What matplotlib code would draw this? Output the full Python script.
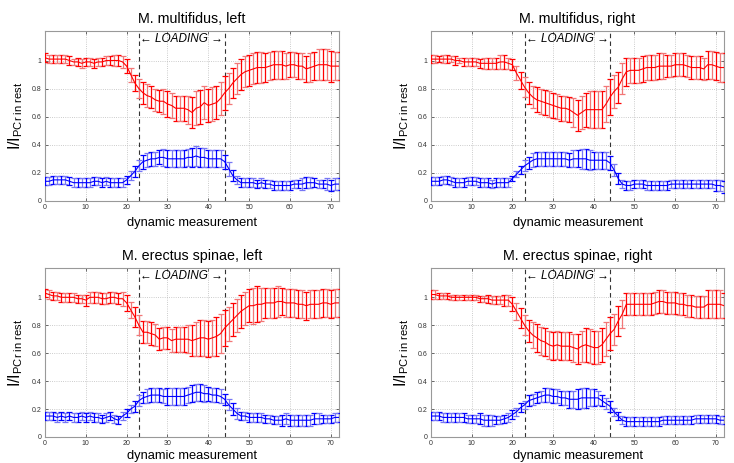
#import
import matplotlib
matplotlib.use("Agg")
import matplotlib.pyplot as plt
import numpy as np

#data
meas = list(range(73))

titles = ["M. multifidus, left", "M. multifidus, right",
          "M. erectus spinae, left", "M. erectus spinae, right"]

# M. multifidus, left
mf_l_red = [1.02,1.01,1.01,1.01,1.01,1.01,1.00,0.99,0.99,0.98,0.99,0.99,0.98,0.99,0.99,1.00,1.00,1.00,1.00,0.99,
            0.96,0.90,0.84,0.80,0.77,0.75,0.74,0.72,0.71,0.71,0.69,0.68,0.66,0.66,0.66,0.65,0.63,0.66,0.67,0.70,0.68,0.69,0.70,0.73,
            0.77,0.80,0.84,0.87,0.90,0.92,0.93,0.94,0.95,0.95,0.95,0.96,0.97,0.97,0.97,0.96,0.97,0.97,0.96,0.96,0.94,0.95,0.96,0.97,0.97,0.97,0.96,0.96,0.96]
mf_l_red_err = [0.03,0.03,0.03,0.03,0.03,0.03,0.03,0.02,0.03,0.03,0.03,0.03,0.03,0.03,0.03,0.03,0.03,0.04,0.04,0.04,
                0.05,0.05,0.06,0.07,0.08,0.08,0.08,0.08,0.08,0.09,0.09,0.09,0.09,0.09,0.09,0.10,0.11,0.12,0.12,0.12,0.12,0.12,0.12,0.12,
                0.12,0.11,0.11,0.11,0.11,0.11,0.11,0.11,0.11,0.11,0.10,0.10,0.10,0.10,0.10,0.09,0.09,0.09,0.09,0.09,0.09,0.10,0.10,0.11,0.11,0.11,0.11,0.10,0.10]
mf_l_blue = [0.14,0.14,0.15,0.15,0.15,0.15,0.14,0.13,0.13,0.13,0.13,0.13,0.14,0.14,0.13,0.14,0.13,0.13,0.13,0.13,
             0.15,0.18,0.21,0.25,0.28,0.29,0.30,0.30,0.31,0.31,0.30,0.30,0.30,0.30,0.30,0.31,0.31,0.32,0.31,0.31,0.30,0.30,0.30,0.30,
             0.28,0.23,0.18,0.15,0.13,0.13,0.13,0.13,0.12,0.13,0.12,0.12,0.11,0.11,0.11,0.11,0.11,0.12,0.12,0.12,0.13,0.13,0.13,0.12,0.12,0.12,0.11,0.12,0.12]
mf_l_blue_err = [0.03,0.03,0.03,0.03,0.03,0.03,0.03,0.03,0.03,0.03,0.03,0.03,0.03,0.03,0.03,0.03,0.03,0.03,0.03,0.03,
                 0.03,0.03,0.04,0.04,0.05,0.05,0.05,0.05,0.05,0.06,0.06,0.06,0.06,0.06,0.06,0.06,0.07,0.07,0.07,0.07,0.06,0.06,0.06,0.06,
                 0.05,0.05,0.04,0.03,0.03,0.03,0.03,0.03,0.03,0.03,0.03,0.03,0.03,0.03,0.03,0.03,0.03,0.03,0.03,0.04,0.04,0.04,0.03,0.03,0.03,0.04,0.04,0.04,0.04]

# M. multifidus, right
mf_r_red = [1.01,1.01,1.01,1.01,1.01,1.01,1.00,1.00,0.99,0.99,0.99,0.99,0.98,0.98,0.98,0.98,0.98,0.99,0.99,0.98,
            0.97,0.91,0.86,0.81,0.77,0.74,0.72,0.71,0.70,0.69,0.68,0.67,0.66,0.66,0.65,0.63,0.61,0.63,0.65,0.65,0.65,0.65,0.65,0.69,
            0.74,0.78,0.81,0.87,0.92,0.93,0.93,0.93,0.94,0.95,0.95,0.95,0.96,0.96,0.96,0.96,0.97,0.97,0.97,0.96,0.95,0.95,0.95,0.94,0.97,0.97,0.96,0.95,0.95]
mf_r_red_err = [0.03,0.03,0.02,0.03,0.03,0.02,0.03,0.02,0.03,0.03,0.03,0.03,0.03,0.04,0.04,0.04,0.04,0.05,0.05,0.04,
                0.04,0.05,0.06,0.07,0.08,0.08,0.09,0.09,0.09,0.09,0.09,0.09,0.09,0.09,0.09,0.10,0.11,0.12,0.12,0.13,0.13,0.13,0.13,0.13,
                0.13,0.12,0.11,0.11,0.10,0.09,0.09,0.09,0.09,0.09,0.09,0.09,0.09,0.09,0.08,0.08,0.08,0.08,0.08,0.08,0.08,0.08,0.08,0.08,0.10,0.10,0.10,0.10,0.10]
mf_r_blue = [0.14,0.14,0.14,0.15,0.15,0.14,0.13,0.13,0.13,0.14,0.14,0.14,0.13,0.13,0.13,0.12,0.13,0.13,0.13,0.13,
             0.16,0.19,0.22,0.25,0.27,0.29,0.30,0.30,0.30,0.30,0.30,0.30,0.30,0.30,0.29,0.30,0.30,0.30,0.30,0.29,0.29,0.29,0.29,0.29,
             0.27,0.22,0.16,0.12,0.11,0.11,0.12,0.12,0.12,0.11,0.11,0.11,0.11,0.11,0.11,0.12,0.12,0.12,0.12,0.12,0.12,0.12,0.12,0.12,0.12,0.12,0.11,0.11,0.10]
mf_r_blue_err = [0.03,0.03,0.03,0.03,0.03,0.03,0.03,0.03,0.03,0.03,0.03,0.03,0.03,0.03,0.03,0.03,0.03,0.03,0.03,0.03,
                 0.02,0.02,0.03,0.04,0.04,0.05,0.05,0.05,0.05,0.05,0.05,0.05,0.05,0.05,0.05,0.06,0.06,0.07,0.07,0.07,0.06,0.06,0.06,0.06,
                 0.05,0.04,0.04,0.03,0.03,0.03,0.03,0.03,0.03,0.03,0.03,0.03,0.03,0.03,0.03,0.03,0.03,0.03,0.03,0.03,0.03,0.03,0.03,0.03,0.03,0.03,0.04,0.04,0.04]

# M. erectus spinae, left
es_l_red = [1.03,1.02,1.01,1.01,1.00,1.00,1.00,1.00,0.99,0.99,0.98,1.00,1.00,1.00,0.99,0.99,1.00,1.00,0.99,0.99,
            0.96,0.91,0.86,0.80,0.75,0.75,0.74,0.73,0.70,0.71,0.71,0.69,0.70,0.70,0.70,0.70,0.69,0.70,0.71,0.71,0.70,0.71,0.72,0.74,
            0.78,0.81,0.84,0.87,0.90,0.92,0.94,0.94,0.95,0.95,0.96,0.96,0.96,0.97,0.97,0.96,0.96,0.96,0.95,0.95,0.94,0.95,0.95,0.95,0.96,0.96,0.95,0.96,0.96]
es_l_red_err = [0.03,0.03,0.03,0.03,0.03,0.03,0.03,0.03,0.03,0.03,0.04,0.04,0.04,0.04,0.04,0.04,0.04,0.04,0.04,0.05,
                0.06,0.06,0.07,0.07,0.08,0.08,0.08,0.08,0.08,0.08,0.08,0.08,0.09,0.09,0.09,0.10,0.11,0.12,0.13,0.13,0.13,0.13,0.14,0.14,
                0.13,0.12,0.12,0.12,0.12,0.12,0.12,0.13,0.13,0.12,0.11,0.11,0.11,0.11,0.10,0.10,0.10,0.10,0.10,0.10,0.10,0.10,0.10,0.10,0.10,0.10,0.10,0.10,0.10]
es_l_blue = [0.15,0.15,0.15,0.14,0.15,0.14,0.15,0.14,0.14,0.15,0.14,0.15,0.14,0.14,0.13,0.14,0.15,0.13,0.12,0.15,
             0.17,0.20,0.22,0.26,0.28,0.29,0.30,0.30,0.30,0.29,0.29,0.29,0.29,0.29,0.29,0.30,0.31,0.32,0.32,0.31,0.31,0.30,0.30,0.29,
             0.27,0.23,0.20,0.17,0.15,0.15,0.14,0.14,0.14,0.14,0.13,0.13,0.12,0.12,0.12,0.13,0.12,0.12,0.12,0.12,0.12,0.12,0.13,0.13,0.13,0.13,0.13,0.14,0.14]
es_l_blue_err = [0.03,0.03,0.03,0.03,0.03,0.03,0.03,0.03,0.03,0.03,0.03,0.03,0.03,0.03,0.03,0.03,0.03,0.03,0.03,0.03,
                 0.03,0.03,0.04,0.04,0.04,0.05,0.05,0.05,0.05,0.05,0.06,0.06,0.06,0.06,0.06,0.06,0.06,0.06,0.06,0.06,0.05,0.05,0.05,0.05,
                 0.04,0.04,0.04,0.04,0.03,0.03,0.03,0.03,0.03,0.03,0.03,0.03,0.03,0.03,0.04,0.04,0.04,0.04,0.04,0.04,0.04,0.04,0.04,0.04,0.03,0.03,0.03,0.03,0.03]

# M. erectus spinae, right
es_r_red = [1.02,1.02,1.01,1.01,1.01,1.00,1.00,1.00,1.00,1.00,1.00,1.00,0.99,0.99,0.99,0.98,0.98,0.98,0.98,0.98,
            0.95,0.90,0.85,0.80,0.76,0.73,0.71,0.69,0.68,0.66,0.65,0.66,0.65,0.65,0.65,0.64,0.63,0.65,0.66,0.65,0.64,0.64,0.66,0.70,
            0.74,0.77,0.83,0.88,0.95,0.95,0.95,0.95,0.95,0.95,0.95,0.96,0.97,0.97,0.96,0.96,0.96,0.95,0.95,0.94,0.94,0.93,0.93,0.93,0.95,0.95,0.95,0.95,0.94]
es_r_red_err = [0.03,0.03,0.02,0.02,0.02,0.02,0.02,0.02,0.02,0.02,0.02,0.02,0.02,0.02,0.03,0.03,0.03,0.03,0.04,0.04,
                0.05,0.06,0.07,0.07,0.08,0.09,0.10,0.10,0.10,0.10,0.10,0.10,0.10,0.10,0.10,0.10,0.11,0.11,0.12,0.12,0.12,0.12,0.12,0.12,
                0.12,0.11,0.11,0.10,0.08,0.08,0.08,0.08,0.08,0.08,0.08,0.08,0.08,0.08,0.08,0.08,0.08,0.08,0.08,0.08,0.08,0.08,0.08,0.08,0.10,0.10,0.10,0.10,0.09]
es_r_blue = [0.15,0.15,0.15,0.14,0.14,0.14,0.14,0.14,0.14,0.13,0.13,0.13,0.13,0.12,0.12,0.12,0.12,0.12,0.13,0.14,
             0.16,0.18,0.21,0.23,0.26,0.27,0.28,0.29,0.30,0.30,0.29,0.29,0.28,0.28,0.27,0.27,0.27,0.28,0.28,0.28,0.28,0.28,0.26,0.24,
             0.22,0.18,0.15,0.12,0.11,0.11,0.11,0.11,0.11,0.11,0.11,0.11,0.11,0.12,0.12,0.12,0.12,0.12,0.12,0.12,0.12,0.13,0.13,0.13,0.13,0.13,0.13,0.12,0.12]
es_r_blue_err = [0.03,0.03,0.03,0.03,0.03,0.03,0.03,0.03,0.03,0.03,0.03,0.03,0.04,0.04,0.04,0.04,0.03,0.03,0.03,0.03,
                 0.03,0.03,0.03,0.03,0.04,0.04,0.04,0.04,0.05,0.05,0.05,0.05,0.05,0.05,0.06,0.06,0.07,0.07,0.07,0.06,0.06,0.05,0.04,0.04,
                 0.04,0.03,0.03,0.03,0.03,0.03,0.03,0.03,0.03,0.03,0.03,0.03,0.03,0.03,0.03,0.03,0.03,0.03,0.03,0.03,0.03,0.03,0.03,0.03,0.03,0.03,0.03,0.03,0.03]

loading_start = 23
loading_end = 44

#def
def draw_series(ax, mean, err, dark, light):
    x = np.array(meas)
    y = np.array(mean)
    e = np.array(err)
    # alternate dark/light bars like the original rendering
    ax.errorbar(x[0::2], y[0::2], yerr=e[0::2], fmt="none", ecolor=dark,
                elinewidth=0.9, capsize=2.2, capthick=0.9, zorder=3)
    ax.errorbar(x[1::2], y[1::2], yerr=e[1::2], fmt="none", ecolor=light,
                elinewidth=0.9, capsize=2.2, capthick=0.9, zorder=3)
    ax.plot(x, y, color=dark, lw=0.8, zorder=4)


def main():
    plt.rcParams["font.family"] = ["Liberation Sans", "DejaVu Sans"]
    plt.rcParams["mathtext.fontset"] = "custom"
    plt.rcParams["mathtext.rm"] = "Liberation Sans"
    plt.rcParams["mathtext.it"] = "Liberation Sans:italic"

    fig = plt.figure(figsize=(7.34, 4.63), dpi=100)
    positions = [[0.0613, 0.566, 0.4005, 0.367],
                 [0.5872, 0.566, 0.3992, 0.367],
                 [0.0613, 0.0562, 0.4005, 0.365],
                 [0.5872, 0.0562, 0.3992, 0.365]]
    data = [(mf_l_red, mf_l_red_err, mf_l_blue, mf_l_blue_err),
            (mf_r_red, mf_r_red_err, mf_r_blue, mf_r_blue_err),
            (es_l_red, es_l_red_err, es_l_blue, es_l_blue_err),
            (es_r_red, es_r_red_err, es_r_blue, es_r_blue_err)]

    for i, (pos, title, (red, red_err, blue, blue_err)) in enumerate(zip(positions, titles, data)):
        ax = fig.add_axes(pos)
        draw_series(ax, red, red_err, "#ff0000", "#f27777")
        draw_series(ax, blue, blue_err, "#0000ff", "#7777f5")

        ax.axvline(loading_start, color="#333333", ls=(0, (4, 3)), lw=0.8, zorder=2)
        ax.axvline(loading_end, color="#333333", ls=(0, (4, 3)), lw=0.8, zorder=2)
        ax.text((loading_start + loading_end) / 2, 1.15, "\u2190 LOADING \u2192",
                ha="center", va="center", fontsize=8.5, style="italic")

        ax.set_xlim(0, 72)
        ax.set_ylim(0, 1.21)
        ax.set_xticks([0, 10, 20, 30, 40, 50, 60, 70])
        ax.set_yticks([0, 0.2, 0.4, 0.6, 0.8, 1.0])
        ax.set_yticklabels(["0", "0.2", "0.4", "0.6", "0.8", "1"])
        ax.tick_params(direction="in", length=2.5, width=0.5, labelsize=5,
                       top=True, right=True, pad=2.5, colors="#333333")
        ax.grid(True, ls=":", lw=0.6, color="#bbbbbb")
        for sp in ax.spines.values():
            sp.set_color("#999999")
            sp.set_linewidth(0.8)

        ax.set_title(title, fontsize=10.3, pad=6)
        # bottom row sits right at the figure edge
        ax.set_xlabel("dynamic measurement", fontsize=9.3, labelpad=4 if i < 2 else 1.5)
        ax.set_ylabel(r"I/I$_{\mathrm{PCr\ in\ rest}}$", fontsize=11.5, labelpad=5)

    fig.savefig("out.png", dpi=100)

#main
if __name__ == '__main__':
    main()
